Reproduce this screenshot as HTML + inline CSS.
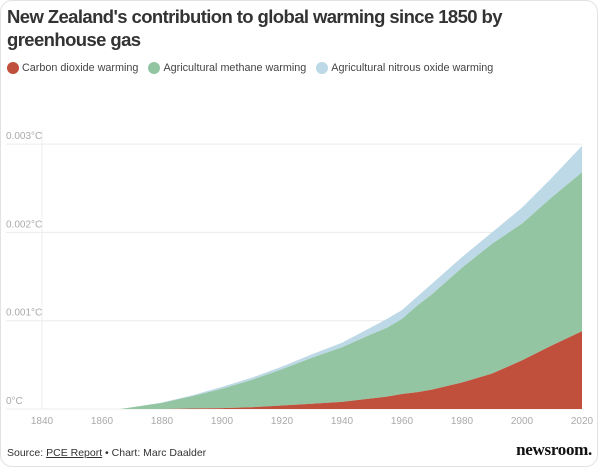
<!DOCTYPE html>
<html><head><meta charset="utf-8"><style>
body{margin:0;background:#fff;width:600px;height:469px;overflow:hidden;font-family:"Liberation Sans",sans-serif}
.card{position:absolute;left:0;top:0;width:598px;height:467px;border:1px solid #dfe3e6;border-radius:12px;box-sizing:border-box}
h1{position:absolute;left:7px;top:5px;margin:0;font-size:18.5px;line-height:23px;font-weight:bold;color:#333;width:540px;letter-spacing:-0.6px}
.legend{position:absolute;left:7px;top:62px;font-size:10.8px;color:#444;display:flex;gap:10px}
.legend span{display:flex;align-items:center}
.legend i{display:inline-block;width:12px;height:12px;border-radius:50%;margin-right:3px}
.foot{position:absolute;left:7px;top:447px;font-size:10.5px;color:#333}
.foot u{color:#333}
.logo{position:absolute;right:8px;top:440px;font-family:"Liberation Serif",serif;font-weight:bold;font-size:17px;color:#111;letter-spacing:-0.3px}
svg{position:absolute;left:0;top:0}
</style></head><body>
<div class="card"></div>
<h1>New Zealand's contribution to global warming since 1850 by greenhouse gas</h1>
<div class="legend">
<span><i style="background:#c0503c"></i>Carbon dioxide warming</span>
<span><i style="background:#93c5a3"></i>Agricultural methane warming</span>
<span><i style="background:#bdd8e6"></i>Agricultural nitrous oxide warming</span>
</div>
<svg id="chart" width="600" height="469"></svg>
<div class="foot">Source: <u>PCE Report</u> • Chart: Marc Daalder</div>
<div class="logo">newsroom.</div>
<script>
const years=[1840,1860,1866,1870,1880,1890,1900,1910,1920,1930,1940,1950,1955,1960,1965,1970,1980,1990,2000,2010,2020];
const co2=[0,0,0,0,0,0.005,0.01,0.02,0.04,0.06,0.08,0.12,0.14,0.17,0.19,0.22,0.3,0.4,0.55,0.72,0.88];
const methane=[0,0,0,0.02,0.07,0.14,0.22,0.31,0.41,0.52,0.62,0.73,0.78,0.85,0.98,1.08,1.3,1.47,1.55,1.68,1.8];
const nitrous=[0,0,0,0,0.003,0.01,0.02,0.025,0.03,0.04,0.05,0.08,0.1,0.1,0.1,0.12,0.12,0.13,0.18,0.22,0.3];
const yTicks=[0,1,2,3];
const yTickLabels=["0°C","0.001°C","0.002°C","0.003°C"];
const xTicks=[1840,1860,1880,1900,1920,1940,1960,1980,2000,2020];
const NS="http://www.w3.org/2000/svg";
const svg=document.getElementById('chart');
const X=y=>42+(y-1840)*(582-42)/180;
const Y=v=>409-v*88.3;
function mk(t,a){const e=document.createElementNS(NS,t);for(const k in a)e.setAttribute(k,a[k]);svg.appendChild(e);return e;}
yTicks.forEach((t,i)=>{
 const l=mk('line',{x1:6,x2:582,y1:Y(t),y2:Y(t),stroke:'#ececec','stroke-width':1});
 
 
 const tx=mk('text',{x:6,y:Y(t)-5,'font-size':10,fill:'#aaa','font-family':'Liberation Sans, sans-serif'});
 tx.textContent=yTickLabels[i];
 
 
});
const va=mk('line',{x1:42,x2:42,y1:130,y2:409,stroke:'#ececec'});


const lo=co2.map(()=>0);
const s1=co2.map((v,i)=>v);
const s2=co2.map((v,i)=>v+methane[i]);
const s3=co2.map((v,i)=>v+methane[i]+nitrous[i]);
function area(top,bot,fill,name){
 let d='M'+years.map((y,i)=>X(y)+','+Y(top[i])).join('L');
 for(let i=years.length-1;i>=0;i--)d+='L'+X(years[i])+','+Y(bot[i]);
 const p=mk('path',{d:d+'Z',fill:fill});
 
 
}
area(s3,s2,'#bdd8e6','area-nitrous-oxide');
area(s2,s1,'#93c5a3','area-methane');
area(s1,lo,'#c0503c','area-carbon-dioxide');
xTicks.forEach(t=>{
 const tx=mk('text',{x:X(t),y:424,'font-size':10,fill:'#aaa','text-anchor':'middle','font-family':'Liberation Sans, sans-serif'});
 tx.textContent=t;
 
 
});
</script>
</body></html>
